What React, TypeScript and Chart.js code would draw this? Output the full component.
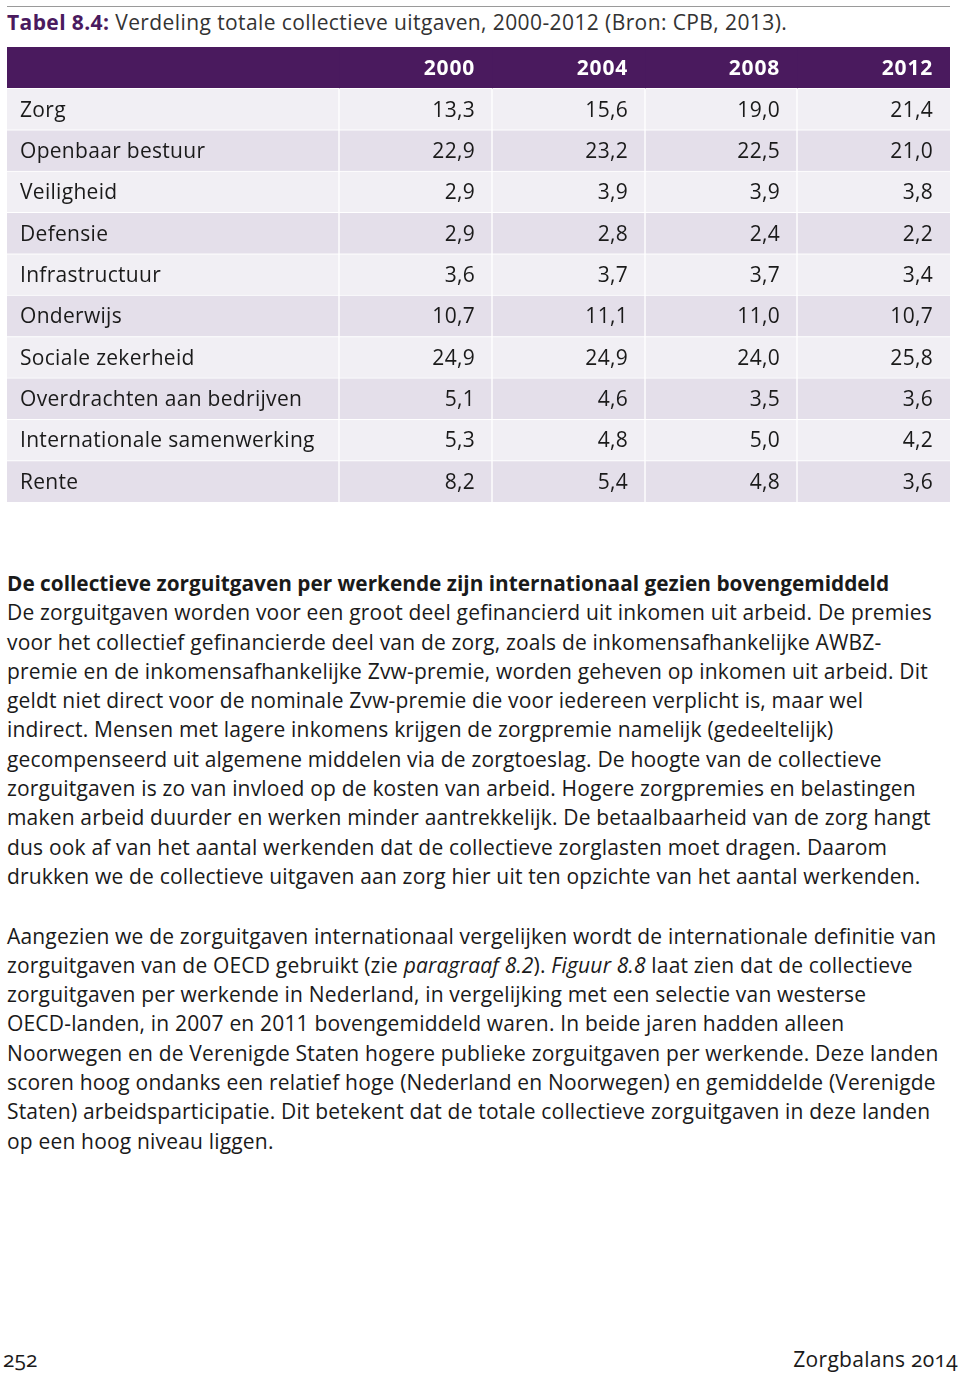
import React, { useEffect, useRef } from "react";
import { Chart, registerables } from "chart.js";

Chart.register(...registerables);

const CATEGORIES = [
  "Zorg",
  "Openbaar bestuur",
  "Veiligheid",
  "Defensie",
  "Infrastructuur",
  "Onderwijs",
  "Sociale zekerheid",
  "Overdrachten aan bedrijven",
  "Internationale samenwerking",
  "Rente",
];
const YEARS = ["2000", "2004", "2008", "2012"];
const VALUES_2000 = [13.3, 22.9, 2.9, 2.9, 3.6, 10.7, 24.9, 5.1, 5.3, 8.2];
const VALUES_2004 = [15.6, 23.2, 3.9, 2.8, 3.7, 11.1, 24.9, 4.6, 4.8, 5.4];
const VALUES_2008 = [19.0, 22.5, 3.9, 2.4, 3.7, 11.0, 24.0, 3.5, 5.0, 4.8];
const VALUES_2012 = [21.4, 21.0, 3.8, 2.2, 3.4, 10.7, 25.8, 3.6, 4.2, 3.6];
const SERIES = [VALUES_2000, VALUES_2004, VALUES_2008, VALUES_2012];

// layout (column widths of the table grid, in pixels)
const COL_WIDTHS = [332, 153, 153, 152, 153];

const PURPLE = "#4a1a5e";
const LIGHT = "#f1eff4";
const DARK = "#e4dfea";
const TEXT = "#1a1a1a";
const FONT = '"Open Sans", "DejaVu Sans", sans-serif';

const fmt = (v: number) => v.toFixed(1).replace(".", ",");

const tableTextPlugin = {
  id: "tableText",
  afterDatasetsDraw(chart: any) {
    const ctx = chart.ctx;
    ctx.save();
    for (let j = 0; j < COL_WIDTHS.length; j++) {
      const meta = chart.getDatasetMeta(j);
      meta.data.forEach((el: any, i: number) => {
        const { x, y, base } = el.getProps(["x", "y", "base"], true);
        let text = "";
        if (i === 0) {
          text = j === 0 ? "" : YEARS[j - 1];
          ctx.font = `bold 21px ${FONT}`;
          ctx.fillStyle = "#ffffff";
          (ctx as any).letterSpacing = "0.8px";
        } else {
          text = j === 0 ? CATEGORIES[i - 1] : fmt(SERIES[j - 1][i - 1]);
          ctx.font = `21px ${FONT}`;
          ctx.fillStyle = TEXT;
          (ctx as any).letterSpacing = "0.3px";
        }
        ctx.textBaseline = "alphabetic";
        if (j === 0) {
          ctx.textAlign = "left";
          ctx.fillText(text, Math.min(x, base) + 13, y + 7.5);
        } else {
          ctx.textAlign = "right";
          ctx.fillText(text, Math.max(x, base) - 17, y + 7.5);
        }
      });
    }
    ctx.restore();
  },
};

function TableChart() {
  const ref = useRef<HTMLCanvasElement | null>(null);
  useEffect(() => {
    if (!ref.current) return;
    const rows = ["", ...CATEGORIES];
    const total = COL_WIDTHS.reduce((a, b) => a + b, 0);
    const chart = new Chart(ref.current, {
      type: "bar",
      data: {
        labels: rows,
        datasets: COL_WIDTHS.map((w, j) => ({
          label: j === 0 ? "" : YEARS[j - 1],
          data: rows.map(() => w),
          backgroundColor: (c: any) =>
            c.dataIndex === 0 ? PURPLE : c.dataIndex % 2 === 1 ? LIGHT : DARK,
          borderColor: "#ffffff",
          borderWidth: (c: any) =>
            c.dataIndex === 0
              ? 0
              : {
                  left: c.datasetIndex === 0 ? 0 : 1,
                  right: c.datasetIndex === COL_WIDTHS.length - 1 ? 0 : 1,
                  top: 1,
                  bottom: 0,
                },
          borderSkipped: false,
          categoryPercentage: 1,
          barPercentage: 1,
        })),
      },
      options: {
        indexAxis: "y",
        animation: false,
        responsive: true,
        maintainAspectRatio: false,
        layout: { padding: 0 },
        events: [],
        scales: {
          x: { stacked: true, display: false, min: 0, max: total, grid: { display: false } },
          y: { stacked: true, display: false, grid: { display: false } },
        },
        plugins: {
          legend: { display: false },
          tooltip: { enabled: false },
        },
      } as any,
      plugins: [tableTextPlugin],
    });
    return () => chart.destroy();
  }, []);
  return (
    <div style={{ position: "absolute", left: 7, top: 47, width: 943, height: 455 }}>
      <canvas ref={ref} />
    </div>
  );
}

const P1 = [
  "De zorguitgaven worden voor een groot deel gefinancierd uit inkomen uit arbeid. De premies",
  "voor het collectief gefinancierde deel van de zorg, zoals de inkomensafhankelijke AWBZ-",
  "premie en de inkomensafhankelijke Zvw-premie, worden geheven op inkomen uit arbeid. Dit",
  "geldt niet direct voor de nominale Zvw-premie die voor iedereen verplicht is, maar wel",
  "indirect. Mensen met lagere inkomens krijgen de zorgpremie namelijk (gedeeltelijk)",
  "gecompenseerd uit algemene middelen via de zorgtoeslag. De hoogte van de collectieve",
  "zorguitgaven is zo van invloed op de kosten van arbeid. Hogere zorgpremies en belastingen",
  "maken arbeid duurder en werken minder aantrekkelijk. De betaalbaarheid van de zorg hangt",
  "dus ook af van het aantal werkenden dat de collectieve zorglasten moet dragen. Daarom",
  "drukken we de collectieve uitgaven aan zorg hier uit ten opzichte van het aantal werkenden.",
];

const P2_AFTER = [
  "zorguitgaven per werkende in Nederland, in vergelijking met een selectie van westerse",
  "OECD-landen, in 2007 en 2011 bovengemiddeld waren. In beide jaren hadden alleen",
  "Noorwegen en de Verenigde Staten hogere publieke zorguitgaven per werkende. Deze landen",
  "scoren hoog ondanks een relatief hoge (Nederland en Noorwegen) en gemiddelde (Verenigde",
  "Staten) arbeidsparticipatie. Dit betekent dat de totale collectieve zorguitgaven in deze landen",
  "op een hoog niveau liggen.",
];

export default function App() {
  const textStyle: React.CSSProperties = {
    position: "absolute",
    left: 7,
    fontFamily: FONT,
    fontSize: 21,
    letterSpacing: "0.18px",
    lineHeight: "29.3px",
    color: TEXT,
    whiteSpace: "nowrap",
  };
  return (
    <div
      style={{
        position: "absolute",
        left: 0,
        top: 0,
        width: 960,
        height: 1374,
        background: "#fff",
        overflow: "hidden",
      }}
    >
      <div style={{ position: "absolute", left: 7, top: 6, width: 943, height: 1, background: "#9a9a9a" }} />
      <div
        style={{
          position: "absolute",
          left: 7,
          top: 9,
          fontFamily: FONT,
          fontSize: 21,
          letterSpacing: "0.4px",
          lineHeight: "26px",
          color: "#333",
          whiteSpace: "nowrap",
        }}
      >
        <span style={{ fontWeight: 700, color: PURPLE }}>Tabel 8.4:</span> Verdeling totale collectieve
        uitgaven, 2000-2012 (Bron: CPB, 2013).
      </div>
      <TableChart />
      <div style={{ ...textStyle, top: 569 }}>
        <div style={{ fontWeight: 700, fontSize: 20.8, letterSpacing: 0 }}>
          De collectieve zorguitgaven per werkende zijn internationaal gezien bovengemiddeld
        </div>
        {P1.map((l, i) => (
          <div key={i}>{l}</div>
        ))}
      </div>
      <div style={{ ...textStyle, top: 921.5 }}>
        <div>Aangezien we de zorguitgaven internationaal vergelijken wordt de internationale definitie van</div>
        <div>
          zorguitgaven van de OECD gebruikt (zie <i>paragraaf 8.2</i>). <i>Figuur 8.8</i> laat zien dat de
          collectieve
        </div>
        {P2_AFTER.map((l, i) => (
          <div key={i}>{l}</div>
        ))}
      </div>
      <div
        style={{
          position: "absolute",
          left: 3,
          top: 1345,
          fontFamily: FONT,
          fontSize: 21,
          lineHeight: "28px",
          color: TEXT,
          fontVariantNumeric: "oldstyle-nums",
        }}
      >
        252
      </div>
      <div
        style={{
          position: "absolute",
          right: 2,
          top: 1345,
          fontFamily: FONT,
          fontSize: 21,
          letterSpacing: "0.3px",
          lineHeight: "28px",
          color: TEXT,
          fontVariantNumeric: "oldstyle-nums",
          whiteSpace: "nowrap",
        }}
      >
        Zorgbalans 2014
      </div>
    </div>
  );
}
